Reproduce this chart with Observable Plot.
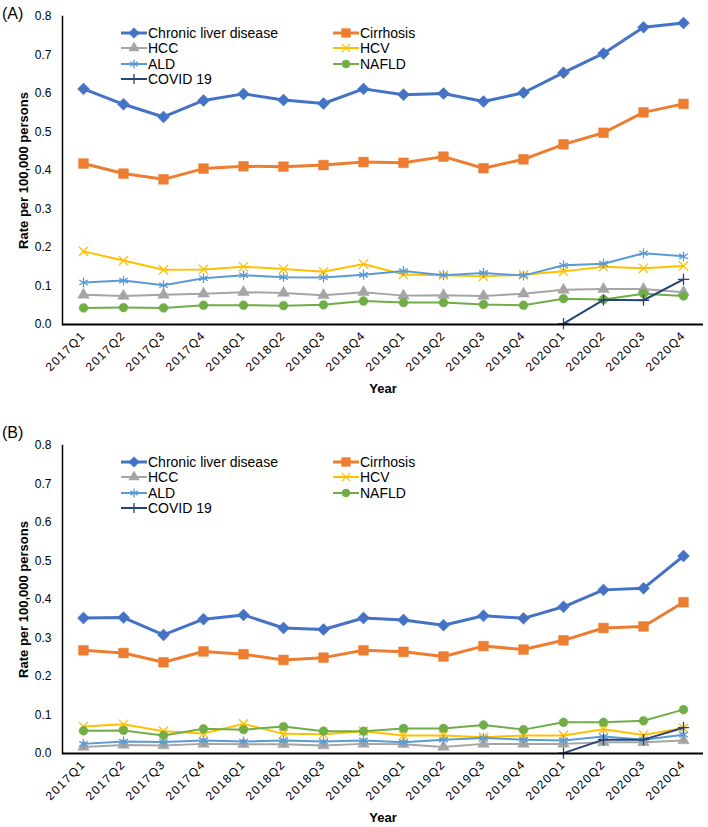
<!DOCTYPE html>
<html><head><meta charset="utf-8">
<script src="https://cdn.jsdelivr.net/npm/d3@7"></script>
<script src="https://cdn.jsdelivr.net/npm/@observablehq/plot@0.6"></script>
<style>
body{margin:0;background:#fff;font-family:"Liberation Sans",Arial,sans-serif;color:#000;}
.panel{position:relative;width:708px;}
.panel svg{display:block;}
.tag{position:absolute;left:2px;font-size:16px;line-height:16px;}
.leg{position:absolute;display:flex;align-items:center;font-size:14px;line-height:14px;white-space:nowrap;}
.leg svg{margin-right:1px;}
g[aria-label="x-axis label"] text, g[aria-label="y-axis label"] text{font-weight:bold;font-size:13px;}
g[aria-label="x-axis tick label"] text{letter-spacing:1.3px;}
</style></head>
<body><div id="root"></div>
<script>
const quarters = ["2017Q1","2017Q2","2017Q3","2017Q4","2018Q1","2018Q2","2018Q3","2018Q4","2019Q1","2019Q2","2019Q3","2019Q4","2020Q1","2020Q2","2020Q3","2020Q4"];
const seriesNames = ["Chronic liver disease","Cirrhosis","HCC","HCV","ALD","NAFLD","COVID 19"];
const seriesColors = ["#4472C4","#ED7D31","#A5A5A5","#FFC000","#5B9BD5","#70AD47","#264478"];
const yTicks = [0,0.1,0.2,0.3,0.4,0.5,0.6,0.7,0.8];
const panelLabels = ["(A)","(B)"];

// Panel A
const aChronic   = [0.612,0.572,0.539,0.582,0.599,0.583,0.574,0.612,0.597,0.600,0.579,0.602,0.654,0.704,0.772,0.783];
const aCirrhosis = [0.418,0.392,0.377,0.405,0.411,0.410,0.414,0.422,0.420,0.436,0.406,0.429,0.468,0.498,0.551,0.573];
const aHCC       = [0.077,0.074,0.077,0.080,0.084,0.082,0.076,0.084,0.075,0.076,0.074,0.080,0.090,0.092,0.092,0.084];
const aHCV       = [0.190,0.166,0.142,0.143,0.150,0.144,0.137,0.157,0.130,0.128,0.125,0.129,0.138,0.150,0.146,0.152];
const aALD       = [0.109,0.114,0.102,0.120,0.128,0.123,0.122,0.129,0.139,0.128,0.134,0.127,0.154,0.158,0.185,0.177];
const aNAFLD     = [0.043,0.044,0.043,0.050,0.050,0.049,0.051,0.061,0.057,0.057,0.052,0.050,0.067,0.065,0.080,0.074];
const aCOVID     = [null,null,null,null,null,null,null,null,null,null,null,null,0.002,0.064,0.063,0.117];

// Panel B
const bChronic   = [0.352,0.353,0.308,0.349,0.360,0.326,0.322,0.352,0.347,0.333,0.358,0.351,0.381,0.425,0.429,0.513];
const bCirrhosis = [0.268,0.261,0.237,0.265,0.258,0.243,0.249,0.268,0.264,0.252,0.279,0.270,0.294,0.326,0.330,0.393];
const bHCC       = [0.017,0.022,0.021,0.025,0.024,0.024,0.021,0.025,0.024,0.017,0.025,0.025,0.025,0.029,0.029,0.034];
const bHCV       = [0.070,0.076,0.058,0.052,0.077,0.051,0.050,0.058,0.047,0.047,0.042,0.047,0.047,0.063,0.048,0.066];
const bALD       = [0.025,0.031,0.030,0.034,0.031,0.034,0.031,0.034,0.029,0.036,0.040,0.036,0.034,0.044,0.036,0.049];
const bNAFLD     = [0.059,0.060,0.047,0.064,0.062,0.070,0.058,0.058,0.065,0.065,0.074,0.062,0.081,0.081,0.085,0.114];
const bCOVID     = [null,null,null,null,null,null,null,null,null,null,null,null,0.001,0.036,0.036,0.067];

const styles = [
  {symbol:"diamond2", r:5.4, filled:true,  sw:3},
  {symbol:"square",   r:5.5, filled:true,  sw:3},
  {symbol:"triangle", r:4.3, filled:true,  sw:2},
  {symbol:"times",    r:4.3, filled:false, sw:2},
  {symbol:"asterisk", r:4.7, filled:false, sw:2},
  {symbol:"circle",   r:4.4, filled:true,  sw:2},
  {symbol:"plus",     r:3.7, filled:false, sw:2}
];

function toRows(arrays){
  return seriesNames.flatMap((s,k)=>arrays[k].map((v,i)=>({series:s, quarter:quarters[i], value:v})).filter(d=>d.value!=null));
}

function seriesMarks(data){
  const marks=[];
  seriesNames.forEach((s,k)=>{
    const st=styles[k], c=seriesColors[k];
    marks.push(Plot.line(data,{filter:d=>d.series===s,x:"quarter",y:"value",stroke:c,strokeWidth:st.sw}));
    marks.push(Plot.dot(data,{filter:d=>d.series===s,x:"quarter",y:"value",symbol:()=>st.symbol,r:st.r,
      fill:st.filled?c:"none",stroke:c,strokeWidth:st.filled?0.5:1.3}));
  });
  return marks;
}

function makeChart(data,height,marginTop,marginBottom){
  return Plot.plot({
    width:708,height,marginTop,marginBottom,marginLeft:62,marginRight:5,
    style:{fontFamily:"Liberation Sans, Arial, sans-serif",fontSize:"12px",color:"#000",background:"#fff"},
    x:{type:"point",domain:quarters,padding:0.5},
    y:{domain:[0,0.8]},
    symbol:{domain:styles.map(d=>d.symbol),range:styles.map(d=>d.symbol)},
    marks:[
      Plot.axisX({tickRotate:-45,tickSize:0,tickPadding:9,fontSize:12,label:"Year",labelAnchor:"center",labelOffset:68,labelArrow:"none"}),
      Plot.axisY({ticks:yTicks,tickFormat:d3.format(".1f"),tickSize:0,tickPadding:11,fontSize:12,label:"Rate per 100,000 persons",labelAnchor:"center",labelOffset:44,labelArrow:"none"}),
      ...seriesMarks(data),
      Plot.frame({anchor:"left",stroke:"#000",strokeWidth:1.5}),
      Plot.ruleY([0],{stroke:"#000",strokeWidth:2})
    ]
  });
}

function swatch(k){
  const st=styles[k], c=seriesColors[k];
  const svg=d3.create("svg").attr("width",26).attr("height",14);
  svg.append("line").attr("x1",0).attr("x2",26).attr("y1",7).attr("y2",7).attr("stroke",c).attr("stroke-width",st.sw);
  const sym={diamond2:d3.symbolDiamond2,square:d3.symbolSquare,triangle:d3.symbolTriangle,times:d3.symbolTimes,asterisk:d3.symbolAsterisk,circle:d3.symbolCircle,plus:d3.symbolPlus}[st.symbol];
  svg.append("path").attr("transform","translate(13,7)").attr("d",d3.symbol(sym,Math.PI*st.r*st.r*0.8)())
    .attr("fill",st.filled?c:"none").attr("stroke",c).attr("stroke-width",st.filled?0.5:1.3);
  return svg.node();
}

function addPanel(idx,arrays,height,marginTop,marginBottom,tagTop){
  const div=document.createElement("div");div.className="panel";div.style.height=height+"px";
  div.appendChild(makeChart(toRows(arrays),height,marginTop,marginBottom));
  const tag=document.createElement("div");tag.className="tag";tag.style.top=tagTop+"px";tag.textContent=panelLabels[idx];
  div.appendChild(tag);
  seriesNames.forEach((s,k)=>{
    const col=k%2, row=Math.floor(k/2);
    const it=document.createElement("div");it.className="leg";
    it.style.left=(col?333:121)+"px";
    it.style.top=(marginTop+17+row*15.4-7)+"px";
    it.appendChild(swatch(k));
    const t=document.createElement("span");t.textContent=s;it.appendChild(t);
    div.appendChild(it);
  });
  document.getElementById("root").appendChild(div);
}

addPanel(0,[aChronic,aCirrhosis,aHCC,aHCV,aALD,aNAFLD,aCOVID],400,16,76,6);
addPanel(1,[bChronic,bCirrhosis,bHCC,bHCV,bALD,bNAFLD,bCOVID],427,45,74,25);
</script>
</body></html>
